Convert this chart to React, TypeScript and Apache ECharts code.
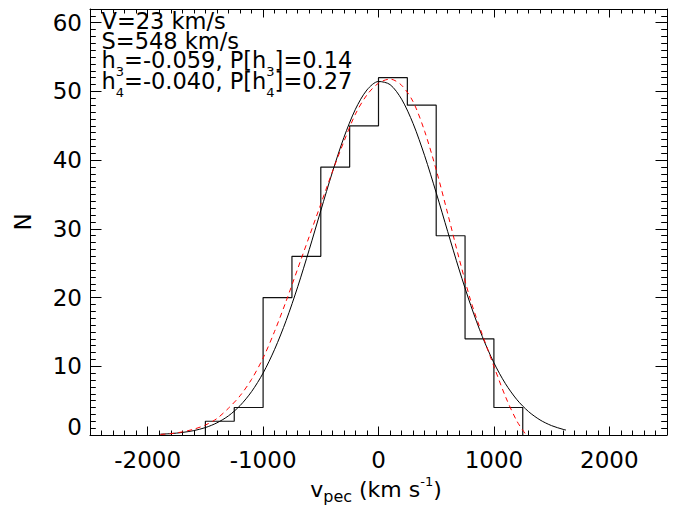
import React, { useEffect, useRef } from "react";
import * as echarts from "echarts";

// ---- Data ----
const binEdges = [-1500, -1250, -1000, -750, -500, -250, 0, 250, 500, 750, 1000, 1250];
const binCounts = [2, 4, 20, 26, 39, 45, 52, 48, 29, 14, 4];

// Gaussian fit (solid black)
const gaussV = [-1890, -1800, -1700, -1600, -1500, -1400, -1300, -1200, -1100, -1000, -900, -800, -700, -600, -500, -400, -300, -200, -100, 0, 100, 200, 300, 400, 500, 600, 700, 800, 900, 1000, 1100, 1200, 1300, 1400, 1500, 1600, 1625];
const gaussN = [0.12, 0.2, 0.37, 0.64, 1.08, 1.77, 2.79, 4.27, 6.31, 9.01, 12.47, 16.67, 21.57, 26.99, 32.66, 38.23, 43.29, 47.41, 50.22, 51.45, 51.0, 48.88, 45.32, 40.64, 35.26, 29.59, 24.01, 18.85, 14.31, 10.51, 7.47, 5.13, 3.41, 2.19, 1.36, 0.82, 0.72];

// Gauss-Hermite fit (dashed red)
const ghV = [-1890, -1800, -1700, -1600, -1500, -1400, -1300, -1200, -1100, -1000, -900, -800, -700, -600, -500, -400, -300, -200, -100, 0, 100, 200, 300, 400, 500, 600, 700, 800, 900, 1000, 1100, 1200, 1280];
const ghN = [0.08, 0.2, 0.45, 0.85, 1.45, 2.4, 3.9, 5.7, 8.1, 11.2, 15.1, 19.5, 24.2, 28.9, 33.6, 38.3, 42.7, 46.7, 49.5, 51.2, 51.8, 50.9, 48.5, 44.2, 38.6, 32.2, 25.6, 19.5, 14.6, 10.0, 5.6, 2.0, 0];

const xMajorTicks = [-2000, -1000, 0, 1000, 2000];
const yMajorTicks = [0, 10, 20, 30, 40, 50, 60];

const statV = "23";
const statS = "548";
const statH3 = "-0.059";
const statPH3 = "0.14";
const statH4 = "-0.040";
const statPH4 = "0.27";

const FAMILY = '"DejaVu Sans"';

type Seg = [string, number]; // kind: 0 main, 1 sub, 2 sup

export default function App() {
  const ref = useRef<HTMLDivElement>(null);

  useEffect(() => {
    const el = ref.current!;
    const chart = echarts.init(el, null, { renderer: "svg", width: 678, height: 506 });

    const ctx = document.createElement("canvas").getContext("2d")!;
    const measure = (t: string, size: number) => {
      ctx.font = `${size}px ${FAMILY}`;
      return ctx.measureText(t).width;
    };

    const buildRich = (
      segs: Seg[],
      x0: number | null,
      cx: number | null,
      baseline: number,
      sizes: number[],
      offsets: number[]
    ) => {
      const widths = segs.map(([t, k]) => measure(t, sizes[k]));
      const total = widths.reduce((a, b) => a + b, 0);
      let x = x0 !== null ? x0 : (cx as number) - total / 2;
      const els: any[] = [];
      segs.forEach(([t, k], i) => {
        const fs = sizes[k];
        const bl = baseline + offsets[k];
        els.push({
          type: "text",
          x,
          y: bl - 0.346 * fs,
          silent: true,
          style: {
            text: t,
            font: `${fs}px ${FAMILY}`,
            fill: "#000",
            align: "left",
            verticalAlign: "middle",
            textAlign: "left",
            textVerticalAlign: "middle",
          },
        });
        x += widths[i];
      });
      return els;
    };

    const statLines: Seg[][] = [
      [[`V=${statV} km/s`, 0]],
      [[`S=${statS} km/s`, 0]],
      [["h", 0], ["3", 1], [`=${statH3}, P[h`, 0], ["3", 1], [`]=${statPH3}`, 0]],
      [["h", 0], ["4", 1], [`=${statH4}, P[h`, 0], ["4", 1], [`]=${statPH4}`, 0]],
    ];
    const statBaselines = [28.5, 48.3, 68.2, 88.6];

    const graphics: any[] = [];
    statLines.forEach((segs, i) => {
      graphics.push(...buildRich(segs, 101.5, null, statBaselines[i], [22.5, 13, 13], [0, 8, -11]));
    });

    const titleSegs: Seg[] = [["v", 0], ["pec", 1], [" (km s", 0], ["-1", 2], [")", 0]];
    graphics.push(...buildRich(titleSegs, null, 376, 497.5, [22, 16, 13], [0, 5, -11.5]));

    graphics.push({
      type: "text",
      x: 23,
      y: 222,
      rotation: Math.PI / 2,
      silent: true,
      style: {
        text: "N",
        font: `23px ${FAMILY}`,
        fill: "#000",
        align: "center",
        verticalAlign: "middle",
        textAlign: "center",
        textVerticalAlign: "middle",
      },
    });

    const histData: number[][] = [[binEdges[0], 0]];
    binCounts.forEach((c, i) => {
      histData.push([binEdges[i], c]);
      histData.push([binEdges[i + 1], c]);
    });
    histData.push([binEdges[binEdges.length - 1], 0]);

    const gaussData = gaussV.map((v, i) => [v, gaussN[i]]);
    const ghData = ghV.map((v, i) => [v, ghN[i]]);

    const line = { color: "#000", width: 1 };
    const labelFont = { fontSize: 23, fontFamily: FAMILY, color: "#000" };
    const plain = (v: number) => String(v);

    const xBase = {
      type: "value",
      min: -2500,
      max: 2500,
      splitLine: { show: false },
      axisLine: { show: false, onZero: false, lineStyle: line },
      axisLabel: { show: false },
    };
    const yBase = {
      type: "value",
      min: 0,
      max: 62,
      splitLine: { show: false },
      axisLine: { show: false, onZero: false, lineStyle: line },
      axisLabel: { show: false },
    };

    chart.setOption({
      animation: false,
      backgroundColor: "#fff",
      grid: { left: 90, right: 11, top: 9, bottom: 71, show: false },
      xAxis: [
        {
          ...xBase,
          position: "bottom",
          axisLine: { show: true, onZero: false, lineStyle: line },
          axisTick: { show: true, inside: true, length: 8.5, customValues: xMajorTicks, lineStyle: line },
          axisLabel: { show: true, customValues: xMajorTicks, formatter: plain, margin: 13, lineHeight: 23, ...labelFont },
        },
        {
          ...xBase,
          position: "bottom",
          interval: 100,
          axisTick: { show: true, inside: true, length: 4.5, lineStyle: line },
        },
        {
          ...xBase,
          position: "top",
          axisLine: { show: true, onZero: false, lineStyle: line },
          axisTick: { show: true, inside: true, length: 8.5, customValues: xMajorTicks, lineStyle: line },
        },
        {
          ...xBase,
          position: "top",
          interval: 100,
          axisTick: { show: true, inside: true, length: 4.5, lineStyle: line },
        },
      ],
      yAxis: [
        {
          ...yBase,
          position: "left",
          axisLine: { show: true, onZero: false, lineStyle: line },
          axisTick: { show: true, inside: true, length: 11.5, customValues: yMajorTicks, lineStyle: line },
          axisLabel: {
            show: true,
            customValues: yMajorTicks,
            formatter: plain,
            margin: 8,
            lineHeight: 17,
            verticalAlignMinLabel: "bottom",
            ...labelFont,
          },
        },
        {
          ...yBase,
          position: "left",
          interval: 1,
          axisTick: { show: true, inside: true, length: 5.8, lineStyle: line },
        },
        {
          ...yBase,
          position: "right",
          axisLine: { show: true, onZero: false, lineStyle: line },
          axisTick: { show: true, inside: true, length: 11.5, customValues: yMajorTicks, lineStyle: line },
        },
        {
          ...yBase,
          position: "right",
          interval: 1,
          axisTick: { show: true, inside: true, length: 5.8, lineStyle: line },
        },
      ],
      series: [
        {
          type: "line",
          name: "histogram",
          data: histData,
          showSymbol: false,
          symbol: "none",
          lineStyle: { color: "#111", width: 1.2 },
          z: 2,
        },
        {
          type: "line",
          name: "Gaussian",
          data: gaussData,
          showSymbol: false,
          symbol: "none",
          smooth: 0.3,
          lineStyle: { color: "#000", width: 1 },
          z: 3,
        },
        {
          type: "line",
          name: "Gauss-Hermite",
          data: ghData,
          showSymbol: false,
          symbol: "none",
          smooth: 0.3,
          lineStyle: { color: "#ff0000", width: 1, type: [5, 4] },
          z: 4,
        },
      ],
      graphic: { elements: graphics },
    });

    return () => chart.dispose();
  }, []);

  return (
    <div
      ref={ref}
      style={{ position: "fixed", left: 0, top: 0, width: 678, height: 506, background: "#fff" }}
    />
  );
}
